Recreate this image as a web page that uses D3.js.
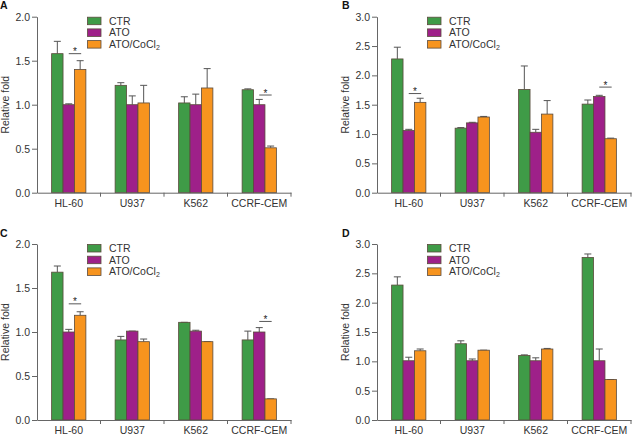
<!DOCTYPE html>
<html>
<head>
<meta charset="utf-8">
<script src="https://cdn.jsdelivr.net/npm/d3@7"></script>
<style>
  body { margin: 0; background: #fff; }
  svg { display: block; font-family: "Liberation Sans", Arial, sans-serif; }
</style>
</head>
<body>
<svg id="chart" width="632" height="435"></svg>
<script>
// ---- data ----
const categories = ["HL-60", "U937", "K562", "CCRF-CEM"];
const seriesNames = ["CTR", "ATO", "ATO/CoCl2"];
const colors = ["#3f9b47", "#9e2089", "#f7941e"];

// Panel A
const aCTR = [1.58, 1.22, 1.02, 1.17];
const aATO = [1.00, 1.00, 1.00, 1.00];
const aMix = [1.40, 1.02, 1.19, 0.51];
const aCTRerr = [1.72, 1.25, 1.09, 1.18];
const aATOerr = [1.01, 1.10, 1.12, 1.06];
const aMixerr = [1.50, 1.22, 1.41, 0.53];
const aSig = [{cat: "HL-60", y: 1.58}, {cat: "CCRF-CEM", y: 1.11}];
const aTicks = [0, 0.5, 1.0, 1.5, 2.0];

// Panel B
const bCTR = [2.28, 1.10, 1.76, 1.51];
const bATO = [1.06, 1.19, 1.03, 1.64];
const bMix = [1.54, 1.29, 1.34, 0.92];
const bCTRerr = [2.48, 1.11, 2.16, 1.58];
const bATOerr = [1.08, 1.20, 1.08, 1.66];
const bMixerr = [1.61, 1.30, 1.57, 0.93];
const bSig = [{cat: "HL-60", y: 1.69}, {cat: "CCRF-CEM", y: 1.80}];
const bTicks = [0, 0.5, 1.0, 1.5, 2.0, 2.5, 3.0];

// Panel C
const cCTR = [1.68, 0.91, 1.11, 0.91];
const cATO = [1.00, 1.01, 1.01, 1.00];
const cMix = [1.19, 0.89, 0.89, 0.24];
const cCTRerr = [1.75, 0.95, 1.11, 1.01];
const cATOerr = [1.03, 1.01, 1.02, 1.05];
const cMixerr = [1.23, 0.92, 0.89, 0.24];
const cSig = [{cat: "HL-60", y: 1.32}, {cat: "CCRF-CEM", y: 1.12}];
const cTicks = [0, 0.5, 1.0, 1.5, 2.0];

// Panel D
const dCTR = [2.30, 1.30, 1.10, 2.77];
const dATO = [1.01, 1.01, 1.01, 1.01];
const dMix = [1.18, 1.19, 1.21, 0.69];
const dCTRerr = [2.44, 1.35, 1.11, 2.83];
const dATOerr = [1.07, 1.04, 1.06, 1.21];
const dMixerr = [1.21, 1.19, 1.22, 0.69];
const dSig = [];
const dTicks = [0, 0.5, 1.0, 1.5, 2.0, 2.5, 3.0];

const panels = [
  {label: "A", vals: [aCTR, aATO, aMix], errs: [aCTRerr, aATOerr, aMixerr], sig: aSig, ticks: aTicks, ox: 37, oy: 16.7, titleX: 9},
  {label: "B", vals: [bCTR, bATO, bMix], errs: [bCTRerr, bATOerr, bMixerr], sig: bSig, ticks: bTicks, ox: 377, oy: 16.7, titleX: 349},
  {label: "C", vals: [cCTR, cATO, cMix], errs: [cCTRerr, cATOerr, cMixerr], sig: cSig, ticks: cTicks, ox: 37, oy: 244, titleX: 9},
  {label: "D", vals: [dCTR, dATO, dMix], errs: [dCTRerr, dATOerr, dMixerr], sig: dSig, ticks: dTicks, ox: 377, oy: 244, titleX: 349}
];

const W = 254, H = 176;
const svg = d3.select("#chart");
const axisColor = "#666";
const textColor = "#333";
const fs = "10.5px";

panels.forEach(p => {
  const g = svg.append("g").attr("transform", `translate(${p.ox},${p.oy})`);
  const x0 = d3.scaleBand().domain(categories).range([0, W]).padding(0);
  const x1 = d3.scaleBand().domain(seriesNames).range([0, x0.bandwidth()]).paddingInner(0).paddingOuter(1.28);
  const y = d3.scaleLinear().domain([0, d3.max(p.ticks)]).range([H, 0]);

  // bars
  categories.forEach((cat, ci) => {
    const cg = g.append("g").attr("transform", `translate(${x0(cat)},0)`);
    seriesNames.forEach((s, si) => {
      const v = p.vals[si][ci];
      const e = p.errs[si][ci];
      const bx = x1(s), bw = x1.bandwidth();
      // error bar (upper only)
      if (e > v + 0.001) {
        cg.append("line")
          .attr("x1", bx + bw / 2).attr("x2", bx + bw / 2)
          .attr("y1", y(v)).attr("y2", y(e))
          .attr("stroke", "#555").attr("stroke-width", 1);
      }
      cg.append("line")
        .attr("x1", bx + bw / 2 - 3.5).attr("x2", bx + bw / 2 + 3.5)
        .attr("y1", y(e)).attr("y2", y(e))
        .attr("stroke", "#555").attr("stroke-width", 1);
      cg.append("rect")
        .attr("x", bx).attr("y", y(v))
        .attr("width", bw).attr("height", H - y(v))
        .attr("fill", colors[si])
        .attr("stroke", "#5a4a3c").attr("stroke-width", 0.8);
    });
  });

  // significance
  p.sig.forEach(sg => {
    const xa = x0(sg.cat) + x1("ATO") + x1.bandwidth() / 2;
    const xb = x0(sg.cat) + x1("ATO/CoCl2") + x1.bandwidth() / 2 + 1;
    g.append("line")
      .attr("x1", xa).attr("x2", xb)
      .attr("y1", y(sg.y)).attr("y2", y(sg.y))
      .attr("stroke", "#444").attr("stroke-width", 0.9);
    g.append("text")
      .attr("x", (xa + xb) / 2).attr("y", y(sg.y) + 1.5)
      .attr("text-anchor", "middle")
      .attr("font-size", "10px").attr("fill", "#222")
      .text("*");
  });

  // y axis
  const ya = g.append("g")
    .call(d3.axisLeft(y).tickValues(p.ticks).tickFormat(d3.format(".1f")).tickSize(5).tickSizeOuter(0).tickPadding(2));
  ya.select(".domain").attr("stroke", axisColor);
  ya.selectAll(".tick line").attr("stroke", axisColor);
  ya.selectAll(".tick text").attr("fill", textColor).attr("font-size", fs).attr("font-family", "Liberation Sans, Arial, sans-serif");

  // x axis with labels
  const xa = g.append("g").attr("transform", `translate(0,${H})`)
    .call(d3.axisBottom(x0).tickSize(0).tickSizeOuter(0).tickPadding(7));
  xa.select(".domain").attr("stroke", axisColor);
  xa.selectAll(".tick text").attr("fill", textColor).attr("font-size", fs).attr("font-family", "Liberation Sans, Arial, sans-serif");
  // boundary ticks between groups
  categories.forEach(cat => {
    g.append("line")
      .attr("x1", x0(cat) + x0.bandwidth()).attr("x2", x0(cat) + x0.bandwidth())
      .attr("y1", H).attr("y2", H + 4)
      .attr("stroke", axisColor).attr("stroke-width", 1);
  });

  // y title
  svg.append("text")
    .attr("transform", `translate(${p.titleX},${p.oy + H / 2}) rotate(-90)`)
    .attr("text-anchor", "middle")
    .attr("font-size", fs).attr("fill", textColor)
    .text("Relative fold");

  // panel letter
  svg.append("text")
    .attr("x", p.ox - 37 + (p.label === "B" || p.label === "D" ? 342 - 340 : 0))
    .attr("y", p.oy - 7.5)
    .attr("font-size", "10.5px").attr("font-weight", "bold").attr("fill", "#111")
    .text(p.label);

  // legend
  const lg = g.append("g").attr("transform", `translate(50,0)`);
  seriesNames.forEach((s, si) => {
    const row = lg.append("g").attr("transform", `translate(0,${si * 11.7})`);
    row.append("rect").attr("x", 0.5).attr("y", 0.5).attr("width", 13.5).attr("height", 7.5)
      .attr("fill", colors[si]).attr("stroke", "#5a4a3c").attr("stroke-width", 0.8);
    const t = row.append("text").attr("x", 22).attr("y", 8)
      .attr("font-size", fs).attr("fill", textColor);
    if (s === "ATO/CoCl2") {
      t.append("tspan").text("ATO/CoCl");
      t.append("tspan").attr("font-size", "7px").attr("dy", 2).text("2");
    } else {
      t.text(s);
    }
  });
});
</script>
</body>
</html>
